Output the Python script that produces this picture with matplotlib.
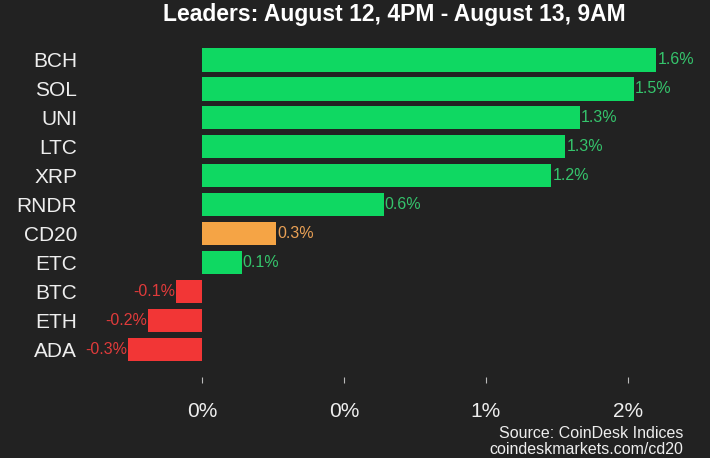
import matplotlib.pyplot as plt
from matplotlib.ticker import FuncFormatter

# coins and hourly change in percent
coins = ["BCH", "SOL", "UNI", "LTC", "XRP", "RNDR", "CD20", "ETC", "BTC", "ETH", "ADA"]
changes = [1.60, 1.52, 1.33, 1.28, 1.23, 0.64, 0.26, 0.14, -0.09, -0.19, -0.26]

bg = "#222222"
green = "#0fd862"
red = "#f23636"
orange = "#f5a445"

colors = []
txt_colors = []
for c, v in zip(coins, changes):
    if c == "CD20":
        colors.append(orange)
        txt_colors.append("#e9a055")
    elif v >= 0:
        colors.append(green)
        txt_colors.append("#35c46c")
    else:
        colors.append(red)
        txt_colors.append("#e03b3b")

plt.rcParams['font.family'] = ['Liberation Sans', 'DejaVu Sans']

fig = plt.figure(figsize=(7.1, 4.58), dpi=100, facecolor=bg)
ax = fig.add_axes([100/710, (458-377)/458, 600/710, (377-40)/458])
ax.set_facecolor(bg)

ypos = list(range(len(coins)))
ax.barh(ypos, changes, height=0.8, color=colors)

for y, v, tc in zip(ypos, changes, txt_colors):
    if v >= 0:
        ax.text(v + 0.004, y, f"{v:.1f}%", color=tc, fontsize=11.5,
                ha="left", va="center")
    else:
        ax.text(v - 0.004, y, f"{v:.1f}%", color=tc, fontsize=11.5,
                ha="right", va="center")

ax.set_xlim(-0.359, 1.754)
ax.set_ylim(10.95, -0.69)
ax.set_yticks(ypos)
ax.set_yticklabels(coins)
ax.set_xticks([0, 0.5, 1.0, 1.5])
ax.xaxis.set_major_formatter(FuncFormatter(lambda x, p: f"{x:.0f}%"))
ax.tick_params(axis="y", length=0, pad=16.5, labelsize=15, labelcolor="#eeeeee")
ax.tick_params(axis="x", length=4, width=0.8, color="#bbbbbb", direction="out",
               pad=14, labelsize=15, labelcolor="#eeeeee")
for s in ax.spines.values():
    s.set_visible(False)

fig.text(394/710, 1 - 15/458, "Leaders: August 12, 4PM - August 13, 9AM",
         color="white", fontsize=16.5, fontweight="bold", ha="center", va="center")
fig.text(683/710, 1 - 434/458, "Source: CoinDesk Indices", color="#eeeeee",
         fontsize=11.5, ha="right", va="center")
fig.text(683/710, 1 - 449/458, "coindeskmarkets.com/cd20", color="#eeeeee",
         fontsize=11.5, ha="right", va="center")

fig.savefig("out.png", dpi=100, facecolor=bg)
